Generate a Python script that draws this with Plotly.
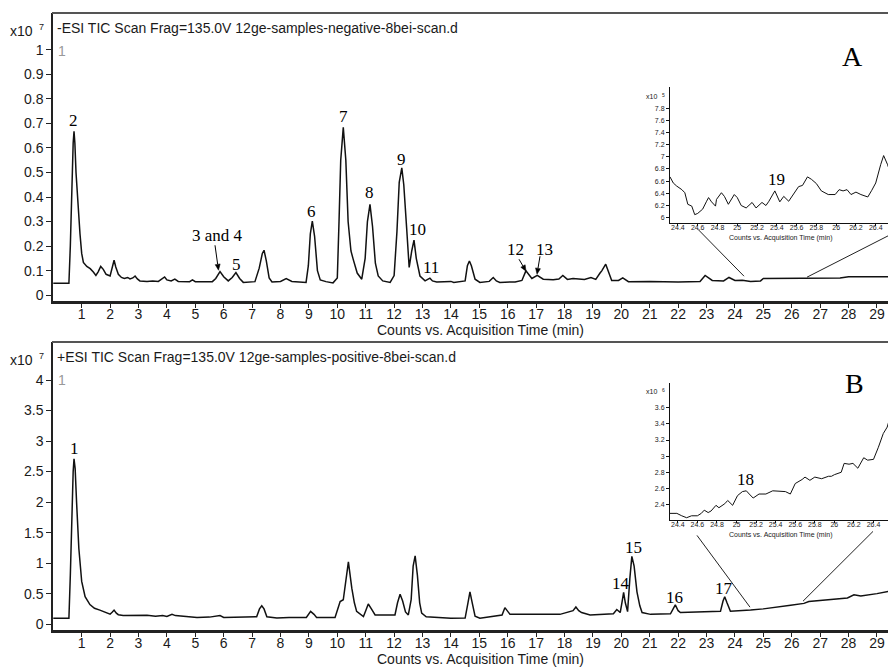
import math
import plotly.graph_objects as go

# ---------------- data ----------------
# Panel A: -ESI TIC (x10^7 counts)
A_time = [0.0, 0.55, 0.60, 0.65, 0.70, 0.73, 0.76, 0.80, 0.86, 0.94, 1.00, 1.06, 1.18, 1.30, 1.41, 1.50,
          1.58, 1.67, 1.76, 1.86, 2.00, 2.08, 2.14, 2.20, 2.29, 2.40, 2.50, 2.62, 2.70, 2.80, 2.88, 2.96,
          3.05, 3.30, 3.50, 3.70, 3.85, 3.92, 4.00, 4.15, 4.28, 4.40, 4.80, 4.90, 5.00, 5.60, 5.72, 5.87,
          6.00, 6.16, 6.30, 6.43, 6.56, 6.69, 7.10, 7.25, 7.36, 7.42, 7.50, 7.60, 7.70, 8.00, 8.20, 8.40,
          8.90, 8.98, 9.05, 9.12, 9.20, 9.30, 9.40, 9.60, 9.85, 10.00, 10.06, 10.12, 10.21, 10.30, 10.38,
          10.48, 10.56, 10.70, 10.86, 10.98, 11.06, 11.15, 11.24, 11.34, 11.44, 11.60, 11.86, 12.00, 12.10,
          12.18, 12.27, 12.34, 12.44, 12.53, 12.62, 12.70, 12.78, 12.91, 13.09, 13.20, 13.26, 13.35, 13.50,
          14.00, 14.10, 14.50, 14.58, 14.65, 14.72, 14.85, 15.02, 15.35, 15.49, 15.60, 15.72, 16.26, 16.50,
          16.64, 16.75, 16.85, 17.04, 17.25, 17.60, 17.80, 17.94, 18.10, 18.30, 18.50, 18.70, 18.93, 19.10,
          19.25, 19.31, 19.45, 19.55, 19.66, 19.90, 20.05, 20.25, 21.00, 22.00, 22.77, 22.95, 23.20, 23.60,
          23.79, 24.00, 24.26, 24.55, 24.90, 25.00, 27.00, 27.35, 27.70, 28.00, 29.00, 29.70]
A_signal = [0.048, 0.048, 0.20, 0.45, 0.62, 0.668, 0.62, 0.50, 0.38, 0.25, 0.17, 0.133, 0.117, 0.108, 0.094, 0.080,
            0.095, 0.117, 0.105, 0.085, 0.078, 0.11, 0.142, 0.115, 0.085, 0.072, 0.068, 0.072, 0.066, 0.070, 0.078, 0.066,
            0.058, 0.056, 0.058, 0.056, 0.066, 0.074, 0.062, 0.058, 0.065, 0.056, 0.055, 0.062, 0.055, 0.055, 0.068, 0.096,
            0.075, 0.058, 0.072, 0.092, 0.068, 0.052, 0.055, 0.11, 0.17, 0.183, 0.14, 0.07, 0.054, 0.056, 0.067, 0.056,
            0.052, 0.12, 0.25, 0.302, 0.24, 0.10, 0.062, 0.055, 0.050, 0.07, 0.30, 0.55, 0.684, 0.55, 0.30,
            0.18, 0.146, 0.09, 0.065, 0.15, 0.30, 0.370, 0.28, 0.13, 0.078, 0.058, 0.052, 0.08, 0.26,
            0.46, 0.519, 0.45, 0.275, 0.113, 0.18, 0.224, 0.15, 0.078, 0.058, 0.065, 0.069, 0.058, 0.054,
            0.056, 0.052, 0.058, 0.12, 0.139, 0.12, 0.065, 0.052, 0.056, 0.072, 0.058, 0.052, 0.054, 0.060,
            0.099, 0.080, 0.068, 0.081, 0.065, 0.063, 0.066, 0.080, 0.064, 0.068, 0.066, 0.064, 0.072, 0.064,
            0.090, 0.099, 0.126, 0.095, 0.060, 0.060, 0.070, 0.055, 0.056, 0.054, 0.056, 0.080, 0.060, 0.058,
            0.072, 0.060, 0.061, 0.056, 0.058, 0.068, 0.068, 0.071, 0.070, 0.075, 0.074, 0.075]

# Panel B: +ESI TIC (x10^7 counts)
B_time = [0.0, 0.55, 0.60, 0.65, 0.70, 0.73, 0.77, 0.82, 0.90, 1.00, 1.12, 1.29, 1.45, 1.64, 1.80, 2.00,
          2.08, 2.14, 2.22, 2.29, 2.46, 3.05, 3.30, 3.60, 3.85, 4.00, 4.18, 4.30, 5.06, 5.50, 5.87, 6.00,
          6.57, 7.16, 7.26, 7.34, 7.42, 7.52, 7.87, 8.30, 8.91, 9.06, 9.18, 9.27, 9.92, 10.05, 10.10, 10.21,
          10.30, 10.39, 10.51, 10.60, 10.68, 10.92, 11.00, 11.09, 11.20, 11.33, 11.80, 12.03, 12.12, 12.21,
          12.30, 12.40, 12.50, 12.60, 12.67, 12.74, 12.82, 12.90, 12.97, 13.13, 14.00, 14.50, 14.60, 14.67,
          14.75, 14.85, 15.02, 15.80, 15.90, 16.00, 16.08, 16.50, 17.00, 17.50, 17.84, 18.30, 18.40, 18.50,
          18.60, 18.90, 19.50, 19.72, 19.84, 19.96, 20.02, 20.08, 20.14, 20.22, 20.30, 20.37, 20.45, 20.55,
          20.65, 20.73, 21.03, 21.73, 21.90, 22.00, 22.08, 22.90, 23.49, 23.58, 23.64, 23.72, 23.84, 24.55,
          25.00, 25.96, 26.43, 26.60, 27.00, 27.96, 28.19, 28.43, 29.00, 29.70]
B_signal = [0.098, 0.098, 0.8, 1.8, 2.5, 2.71, 2.55, 2.0, 1.24, 0.70, 0.45, 0.32, 0.26, 0.23, 0.20, 0.163,
            0.20, 0.23, 0.18, 0.155, 0.14, 0.14, 0.145, 0.13, 0.14, 0.125, 0.16, 0.14, 0.11, 0.115, 0.14, 0.11,
            0.11, 0.12, 0.25, 0.30, 0.25, 0.12, 0.10, 0.11, 0.11, 0.21, 0.16, 0.11, 0.11, 0.30, 0.37, 0.40,
            0.75, 1.02, 0.59, 0.35, 0.21, 0.125, 0.22, 0.33, 0.25, 0.15, 0.15, 0.15, 0.35, 0.49,
            0.38, 0.20, 0.15, 0.40, 0.95, 1.12, 0.80, 0.35, 0.18, 0.12, 0.098, 0.10, 0.35, 0.53,
            0.35, 0.13, 0.098, 0.15, 0.27, 0.20, 0.16, 0.16, 0.16, 0.15, 0.16, 0.22, 0.28, 0.22,
            0.19, 0.15, 0.17, 0.17, 0.24, 0.19, 0.35, 0.52, 0.35, 0.205, 0.75, 1.11, 0.95, 0.53,
            0.30, 0.19, 0.16, 0.17, 0.315, 0.22, 0.19, 0.20, 0.21, 0.38, 0.45, 0.35, 0.21, 0.23,
            0.25, 0.31, 0.34, 0.37, 0.39, 0.43, 0.48, 0.46, 0.50, 0.56]

# Inset A (x10^5 counts)
IA_time = [24.32, 24.353, 24.387, 24.44, 24.47, 24.50, 24.54, 24.57, 24.60, 24.65, 24.69, 24.71, 24.74,
           24.78, 24.79, 24.84, 24.87, 24.91, 24.97, 25.00, 25.04, 25.09, 25.15, 25.19, 25.25, 25.29, 25.32,
           25.38, 25.43, 25.47, 25.52, 25.57, 25.62, 25.66, 25.71, 25.75, 25.80, 25.85, 25.92, 25.99, 26.03,
           26.07, 26.11, 26.15, 26.20, 26.25, 26.32, 26.36, 26.40, 26.45, 26.48, 26.52, 26.56, 26.60]
IA_signal = [6.67, 6.57, 6.52, 6.46, 6.41, 6.22, 6.19, 6.05, 6.07, 6.14, 6.27, 6.33, 6.26,
             6.19, 6.30, 6.41, 6.35, 6.22, 6.38, 6.33, 6.20, 6.16, 6.25, 6.16, 6.25, 6.20, 6.27,
             6.44, 6.26, 6.35, 6.27, 6.38, 6.51, 6.53, 6.67, 6.63, 6.56, 6.44, 6.38, 6.38, 6.46,
             6.44, 6.46, 6.38, 6.42, 6.38, 6.34, 6.45, 6.57, 6.87, 7.02, 6.87, 6.67, 6.68]

# Inset B (x10^6 counts)
IB_time = [24.32, 24.39, 24.44, 24.49, 24.54, 24.60, 24.64, 24.67, 24.71, 24.74, 24.79, 24.82, 24.88,
           24.91, 24.96, 25.01, 25.06, 25.10, 25.13, 25.17, 25.23, 25.30, 25.37, 25.44, 25.50, 25.55, 25.60,
           25.67, 25.70, 25.75, 25.80, 25.87, 25.94, 25.97, 26.00, 26.07, 26.10, 26.15, 26.19, 26.24, 26.30,
           26.34, 26.40, 26.45, 26.50, 26.54, 26.57, 26.63]
IB_signal = [2.29, 2.29, 2.26, 2.236, 2.26, 2.26, 2.29, 2.33, 2.30, 2.32, 2.39, 2.36, 2.41,
             2.45, 2.39, 2.51, 2.56, 2.57, 2.53, 2.48, 2.53, 2.53, 2.57, 2.56, 2.56, 2.53, 2.66,
             2.71, 2.74, 2.70, 2.74, 2.72, 2.75, 2.75, 2.77, 2.80, 2.91, 2.90, 2.91, 2.85, 2.98,
             2.95, 2.96, 3.11, 3.28, 3.36, 3.50, 3.75]

# tick labels
main_xticks = list(range(1, 30))
A_yticks = [0, 0.1, 0.2, 0.3, 0.4, 0.5, 0.6, 0.7, 0.8, 0.9, 1]
A_yticktext = ["0", "0.1", "0.2", "0.3", "0.4", "0.5", "0.6", "0.7", "0.8", "0.9", "1"]
B_yticks = [0, 0.5, 1, 1.5, 2, 2.5, 3, 3.5, 4]
B_yticktext = ["0", "0.5", "1", "1.5", "2", "2.5", "3", "3.5", "4"]
inset_xticks = [24.4, 24.6, 24.8, 25.0, 25.2, 25.4, 25.6, 25.8, 26.0, 26.2, 26.4]
inset_xticktext = ["24.4", "24.6", "24.8", "25", "25.2", "25.4", "25.6", "25.8", "26", "26.2", "26.4"]
IA_yticks = [6.0, 6.2, 6.4, 6.6, 6.8, 7.0, 7.2, 7.4, 7.6, 7.8]
IA_yticktext = ["6", "6.2", "6.4", "6.6", "6.8", "7", "7.2", "7.4", "7.6", "7.8"]
IB_yticks = [2.4, 2.6, 2.8, 3.0, 3.2, 3.4, 3.6]
IB_yticktext = ["2.4", "2.6", "2.8", "3", "3.2", "3.4", "3.6"]

title_A = "-ESI TIC Scan Frag=135.0V 12ge-samples-negative-8bei-scan.d"
title_B = "+ESI TIC Scan Frag=135.0V 12ge-samples-positive-8bei-scan.d"
x_title = "Counts vs. Acquisition Time (min)"

# ---------------- figure ----------------
# the page body has an 8px margin, so the figure is drawn 8px in from the window corner
OFF = 8
W, H = 896 - OFF, 670 - OFF
def px(x):
    return (x - OFF) / W
def py(y):
    return 1 - (y - OFF) / H

SANS = "Liberation Sans, Arial, sans-serif"
SERIF = "Liberation Serif, Times New Roman, serif"
TXT = "#1a1a1a"

fig = go.Figure()
fig.add_trace(go.Scatter(x=A_time, y=A_signal, mode="lines", line=dict(color="#111", width=1.5),
                         xaxis="x", yaxis="y", hoverinfo="skip"))
fig.add_trace(go.Scatter(x=B_time, y=B_signal, mode="lines", line=dict(color="#111", width=1.5),
                         xaxis="x2", yaxis="y2", hoverinfo="skip"))
fig.add_trace(go.Scatter(x=IA_time, y=IA_signal, mode="lines", line=dict(color="#111", width=1),
                         xaxis="x3", yaxis="y3", hoverinfo="skip"))
fig.add_trace(go.Scatter(x=IB_time, y=IB_signal, mode="lines", line=dict(color="#111", width=1),
                         xaxis="x4", yaxis="y4", hoverinfo="skip"))

main_x = dict(range=[-0.01, 29.67], tickvals=main_xticks, ticks="outside", ticklen=4, tickwidth=1,
              tickcolor="#222", showline=True, linewidth=2.5, linecolor="#222", showgrid=False,
              zeroline=False, tickfont=dict(family=SANS, size=14, color=TXT), domain=[px(53), 1],
              ticklabelstandoff=-6)
main_y = dict(ticks="outside", ticklen=5, tickwidth=1, tickcolor="#222", showline=True, linewidth=1.5,
              linecolor="#222", showgrid=False, zeroline=False,
              tickfont=dict(family=SANS, size=14, color=TXT))
inset_x = dict(range=[24.32, 26.605], tickvals=inset_xticks, ticktext=inset_xticktext, ticks="outside",
               ticklen=2, tickwidth=1, tickcolor="#111", showline=True, linewidth=1, linecolor="#111",
               showgrid=False, zeroline=False, tickfont=dict(family=SANS, size=7, color=TXT),
               domain=[px(670), 1], ticklabelstandoff=-5)
inset_y = dict(ticks="outside", ticklen=3, tickwidth=1, tickcolor="#111", showline=True, linewidth=1,
               linecolor="#111", showgrid=False, zeroline=False,
               tickfont=dict(family=SANS, size=7, color=TXT))

fig.update_layout(
    width=W, height=H, autosize=False, showlegend=False,
    margin=dict(l=0, r=0, t=0, b=0),
    paper_bgcolor="white", plot_bgcolor="rgba(0,0,0,0)",
    xaxis=dict(main_x, anchor="y"),
    yaxis=dict(main_y, anchor="x", domain=[py(302), py(13)], range=[-0.0244, 1.1504],
               tickvals=A_yticks, ticktext=A_yticktext),
    xaxis2=dict(main_x, anchor="y2"),
    yaxis2=dict(main_y, anchor="x2", domain=[py(632), py(343)], range=[-0.098, 4.624],
                tickvals=B_yticks, ticktext=B_yticktext),
    xaxis3=dict(inset_x, anchor="y3"),
    yaxis3=dict(inset_y, anchor="x3", domain=[py(224), py(87)], range=[5.907, 8.15],
                tickvals=IA_yticks, ticktext=IA_yticktext),
    xaxis4=dict(inset_x, anchor="y4", range=[24.32, 26.63]),
    yaxis4=dict(inset_y, anchor="x4", domain=[py(521.7), py(384.3)], range=[2.206, 3.905],
                tickvals=IB_yticks, ticktext=IB_yticktext),
)

shapes = []
# frame top borders
for yb in (13, 343):
    shapes.append(dict(type="line", xref="paper", yref="paper", x0=px(52), x1=1, y0=py(yb), y1=py(yb),
                       line=dict(color="#555", width=2)))
# connector lines from insets to the main traces
for (x0, y0, x1, y1) in [(698, 230, 744, 277), (895, 233, 807, 278),
                         (697, 537, 750, 609), (873, 533, 803, 603)]:
    shapes.append(dict(type="line", xref="paper", yref="paper", x0=px(x0), y0=py(y0), x1=px(x1), y1=py(y1),
                       line=dict(color="#222", width=1)))
# label arrows (line + small filled head)
for (tx, ty, hx, hy) in [(215, 246, 218.5, 271), (519, 260, 526, 272), (540, 257, 537, 275)]:
    dx, dy = hx - tx, hy - ty
    L = math.hypot(dx, dy)
    ux, uy = dx / L, dy / L
    bx, by = hx - 6 * ux, hy - 6 * uy
    nx, ny = -uy * 2.5, ux * 2.5
    shapes.append(dict(type="line", xref="paper", yref="paper", x0=px(tx), y0=py(ty), x1=px(bx), y1=py(by),
                       line=dict(color="#000", width=1)))
    path = "M {} {} L {} {} L {} {} Z".format(px(hx), py(hy), px(bx + nx), py(by + ny), px(bx - nx), py(by - ny))
    shapes.append(dict(type="path", xref="paper", yref="paper", path=path, fillcolor="#000",
                       line=dict(color="#000", width=0.5)))
fig.update_layout(shapes=shapes)

ann = []
def text(x, y, s, size=14, family=SANS, color=TXT, xanchor="center"):
    ann.append(dict(x=px(x), y=py(y), xref="paper", yref="paper", text=s, showarrow=False,
                    font=dict(family=family, size=size, color=color), xanchor=xanchor, yanchor="middle"))

# titles
text(55, 28, title_A, xanchor="left")
text(55, 358, title_B, xanchor="left")
# exponent markers ("x10" with a small raised power)
for (yy, p) in [(30, "7"), (360, "7")]:
    text(35, yy + 1, "x10", xanchor="right")
    text(37, yy - 3, p, size=9, xanchor="left")
text(56, 51, "1", color="#999", xanchor="left")
text(56, 381, "1", color="#999", xanchor="left")
text(480, 331, x_title)
text(480, 661, x_title)
# inset texts
text(780, 239, x_title, size=7)
text(780, 537, x_title, size=7)
text(659, 97, "x10", size=7, xanchor="right")
text(660, 95, "5", size=5, xanchor="left")
text(659, 393, "x10", size=7, xanchor="right")
text(660, 391, "6", size=5, xanchor="left")
# panel letters
text(852, 57, "A", size=28, family=SERIF, color="#000")
text(854, 385, "B", size=28, family=SERIF, color="#000")
# peak labels
for (x, y, s) in [(73, 121, "2"), (217, 236, "3 and 4"), (236, 265, "5"), (311, 212, "6"), (343, 117, "7"),
                  (369, 193, "8"), (401, 160, "9"), (417, 230, "10"), (431, 268, "11"), (515, 250, "12"),
                  (544, 250, "13"), (776, 180, "19"),
                  (74, 450, "1"), (621, 585, "14"), (633, 549, "15"), (674, 599, "16"), (724, 590, "17"),
                  (745, 481, "18")]:
    text(x, y, s, size=17, family=SERIF, color="#000")
fig.update_layout(annotations=ann)

fig.write_html("out.html")
